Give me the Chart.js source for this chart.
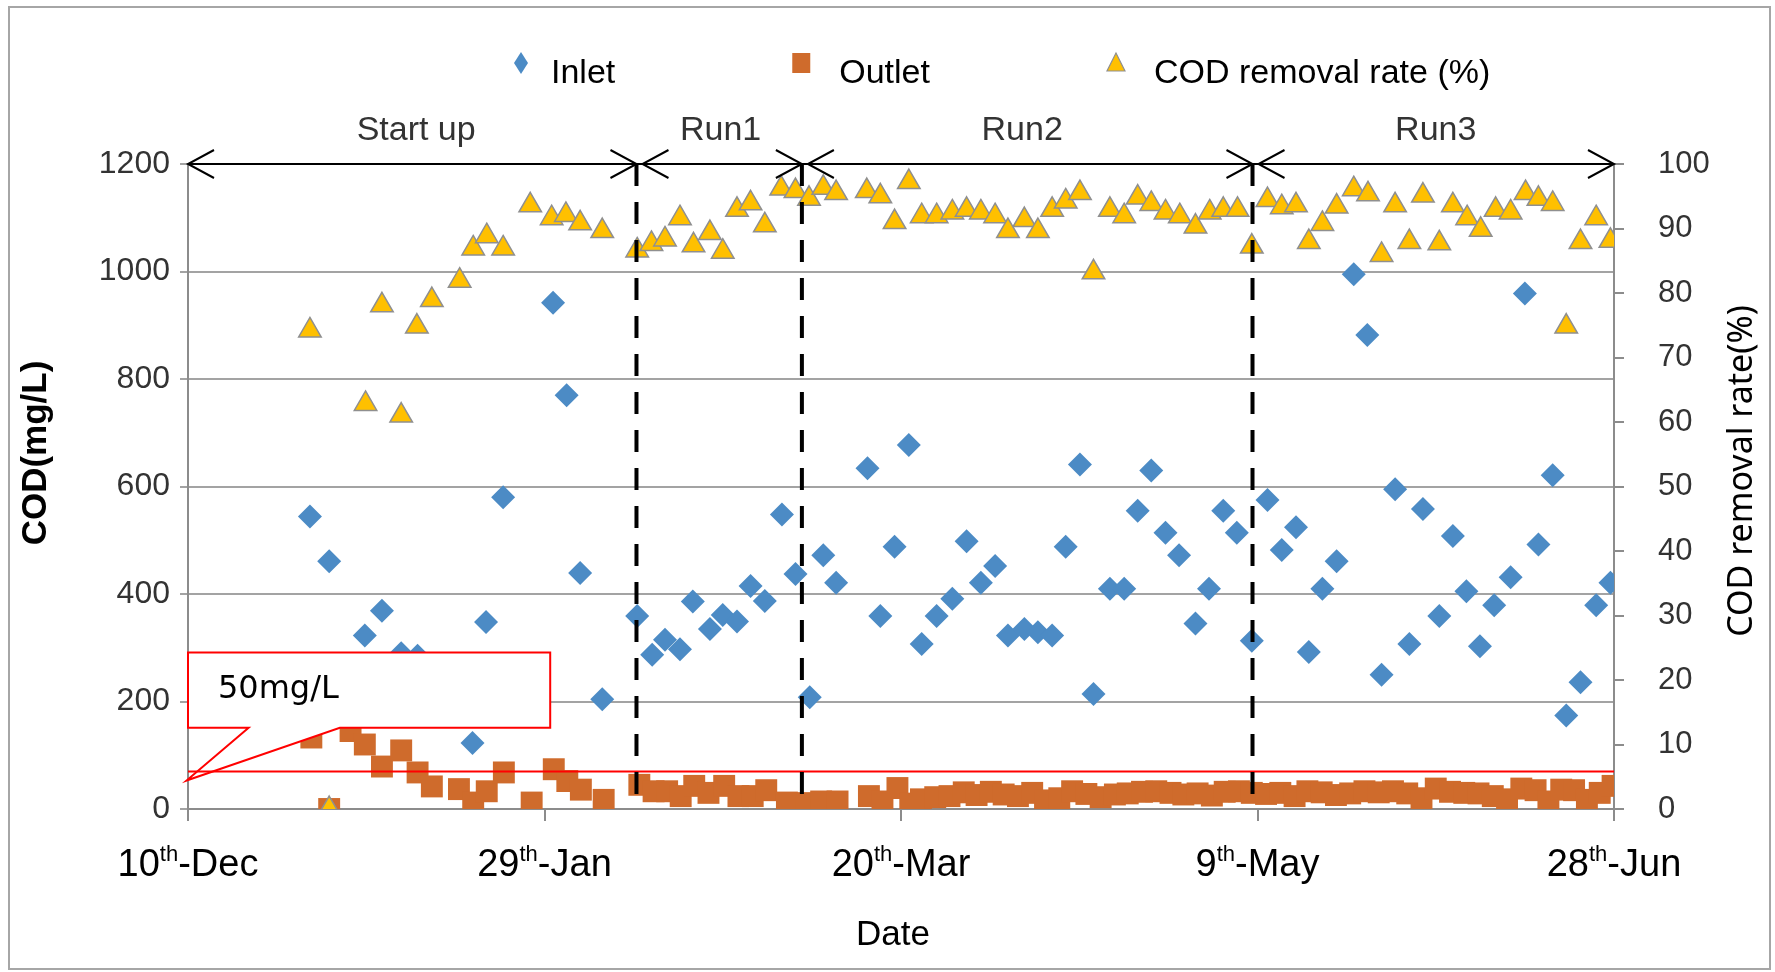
<!DOCTYPE html>
<html><head><meta charset="utf-8">
<script src="https://cdn.jsdelivr.net/npm/chart.js@4.4.0/dist/chart.umd.min.js"></script>
<style>html,body{margin:0;padding:0;background:#fff;}#wrap{width:1775px;height:972px;}</style>
</head><body><div id="wrap"><canvas id="c" width="1775" height="972"></canvas></div>
<script>
// ---- data (days after 10 Dec) ----
const inletDays = [17.1,19.8,24.8,27.2,29.9,32.2,39.9,41.8,44.2,51.2,53.1,55.0,58.1,63.0,65.1,66.9,69.0,70.8,73.2,75.0,77.0,78.9,80.9,83.3,85.2,87.2,89.1,90.9,95.3,97.1,99.1,101.1,102.9,105.0,107.2,109.2,111.2,113.2,115.0,117.3,119.2,121.2,123.1,125.1,127.0,129.3,131.3,133.2,135.1,137.1,139.0,141.3,143.2,145.2,147.1,149.2,151.4,153.4,155.4,157.2,159.1,161.1,163.5,165.4,167.4,169.3,171.3,173.2,175.5,177.4,179.3,181.2,183.2,185.5,187.5,189.4,191.4,193.3,195.3,197.5,199.5];
const inletCOD = [544,461,323,369,290,285,123,348,580,942,770,439,204,359,287,315,297,386,335,361,349,415,387,548,437,208,472,421,634,359,488,677,307,359,391,498,421,452,323,335,329,323,488,641,214,410,410,555,630,514,472,345,410,555,514,313,575,482,524,292,410,461,995,882,250,595,307,558,359,508,405,303,379,431,959,492,621,174,236,379,421];
const outletDays = [17.3,19.8,22.8,24.8,27.2,29.9,32.2,34.2,38.0,40.0,41.9,44.3,48.2,51.3,53.2,55.1,58.3,63.3,65.3,67.2,69.1,71.0,73.0,75.2,77.2,79.2,81.1,84.0,86.8,88.8,91.1,95.5,97.4,99.5,101.3,102.8,104.8,106.8,108.8,110.6,112.6,114.4,116.4,118.4,120.2,122.2,124.0,126.0,128.0,130.0,131.8,133.8,135.8,137.8,139.6,141.6,143.6,145.4,147.4,149.2,151.2,153.2,155.2,157.0,159.0,161.0,163.0,165.0,167.0,169.0,171.0,173.0,175.0,177.0,179.0,181.0,183.0,185.0,187.0,189.0,190.8,192.6,194.4,196.2,198.0,199.8];
const outletCOD = [133,0,145,120,79,109,68,42,37,12,33,68,12,74,52,36,17,45,33,33,24,43,30,43,24,24,35,12,11,14,14,24,14,39,10,18,22,24,31,26,32,27,24,30,16,20,33,28,22,27,29,32,33,30,27,29,25,32,33,30,28,30,24,33,31,26,29,33,31,33,29,20,38,32,30,29,24,18,38,35,14,36,35,17,30,43];
const removalDays = [17.1,19.8,24.9,27.2,29.9,32.1,34.2,38.1,40.0,41.9,44.2,48.0,51.0,53.0,55.0,58.1,63.0,65.0,66.9,69.0,70.9,73.2,75.0,77.0,78.9,80.9,83.2,85.2,87.1,89.1,90.9,95.2,97.1,99.1,101.1,102.9,105.0,107.2,109.2,111.2,113.2,115.0,117.3,119.2,121.2,123.1,125.1,127.0,129.3,131.3,133.2,135.1,137.1,139.1,141.3,143.3,145.2,147.2,149.2,151.4,153.4,155.4,157.2,159.1,161.1,163.5,165.5,167.4,169.3,171.3,173.2,175.5,177.4,179.4,181.3,183.4,185.5,187.6,189.4,191.4,193.3,195.3,197.5,199.5];
const removalRate = [74.2,0,62.8,78.1,61.0,74.8,78.9,81.9,86.9,88.8,86.9,93.6,91.6,92.1,90.8,89.6,86.6,87.6,88.3,91.6,87.4,89.3,86.4,92.9,93.9,90.5,96.2,95.8,94.6,96.3,95.5,95.8,95.0,91.0,97.2,91.9,91.9,92.5,92.9,92.5,91.9,89.6,91.3,89.6,92.9,94.2,95.5,83.2,92.9,91.9,94.8,93.8,92.5,91.9,90.3,92.5,92.9,92.9,87.2,94.4,93.3,93.6,87.9,90.7,93.4,96.1,95.3,85.9,93.6,87.9,95.1,87.7,93.6,91.6,89.8,92.9,92.5,95.5,94.6,93.8,74.8,87.9,91.6,88.1];
const xTickValues = [0,50,100,150,200];
const xTickLabels = [['10','th','-Dec'],['29','th','-Jan'],['20','th','-Mar'],['9','th','-May'],['28','th','-Jun']];
const phaseBounds = [62.9,86.1,149.3];
const phaseNames = ['Start up','Run1','Run2','Run3'];
const phaseLabelDays = [32,74.7,117,175];
const limitCOD = 70;
const calloutText = '50mg/L';
const seriesNames = ['Inlet','Outlet','COD removal rate (%)'];

const zip = (xs, ys) => xs.map((x, i) => ({x: x, y: ys[i]}));
const BLUE = '#4C8BC5', ORANGE = '#CF6B2C', YELLOW = '#FFC000';
const SANS = '"Liberation Sans", Arial, sans-serif';

const decor = {
  id: 'decor',
  beforeDraw(chart) {
    const ctx = chart.ctx;
    ctx.save();
    ctx.fillStyle = '#fff';
    ctx.fillRect(0, 0, chart.width, chart.height);
    ctx.restore();
  },
  afterDatasetsDraw(chart) {
    const ctx = chart.ctx, x = chart.scales.x, y = chart.scales.y;
    ctx.save();
    // callout
    const L = x.getPixelForValue(0), R = x.getPixelForValue(50.8);
    const T = y.getPixelForValue(291), B = y.getPixelForValue(151);
    ctx.beginPath();
    ctx.moveTo(L, T); ctx.lineTo(R, T); ctx.lineTo(R, B);
    ctx.lineTo(x.getPixelForValue(21.3), B);
    ctx.lineTo(x.getPixelForValue(-0.2), y.getPixelForValue(53));
    ctx.lineTo(x.getPixelForValue(8.5), B);
    ctx.lineTo(L, B); ctx.closePath();
    ctx.fillStyle = '#fff'; ctx.fill();
    ctx.strokeStyle = '#ff0000'; ctx.lineWidth = 2; ctx.stroke();
    ctx.fillStyle = '#000';
    ctx.font = '32px "DejaVu Sans", sans-serif';
    ctx.textBaseline = 'middle'; ctx.textAlign = 'left';
    ctx.fillText(calloutText, x.getPixelForValue(4.2), y.getPixelForValue(222));
    // limit line
    ctx.beginPath();
    ctx.moveTo(x.getPixelForValue(0), y.getPixelForValue(limitCOD));
    ctx.lineTo(x.getPixelForValue(200), y.getPixelForValue(limitCOD));
    ctx.strokeStyle = '#ff0000'; ctx.lineWidth = 2; ctx.stroke();
    // phase dashed lines
    ctx.strokeStyle = '#000'; ctx.lineWidth = 4; ctx.setLineDash([22, 16]);
    phaseBounds.forEach(d => {
      const px = x.getPixelForValue(d);
      ctx.beginPath(); ctx.moveTo(px, y.getPixelForValue(1200)); ctx.lineTo(px, y.getPixelForValue(0)); ctx.stroke();
    });
    ctx.setLineDash([]);
    // arrow line
    const ay = y.getPixelForValue(1200);
    ctx.lineWidth = 2;
    ctx.beginPath(); ctx.moveTo(x.getPixelForValue(0), ay); ctx.lineTo(x.getPixelForValue(200), ay); ctx.stroke();
    const head = (px, dir) => {
      ctx.beginPath();
      ctx.moveTo(px - dir * 26, ay - 14); ctx.lineTo(px, ay); ctx.lineTo(px - dir * 26, ay + 14);
      ctx.stroke();
    };
    head(x.getPixelForValue(0), -1);
    head(x.getPixelForValue(200), 1);
    phaseBounds.forEach(d => { const px = x.getPixelForValue(d); head(px, 1); head(px + 6, -1); });
    // phase labels
    ctx.fillStyle = '#333'; ctx.font = '34px ' + SANS;
    ctx.textAlign = 'center'; ctx.textBaseline = 'alphabetic';
    phaseNames.forEach((n, i) => ctx.fillText(n, x.getPixelForValue(phaseLabelDays[i]), 140));
    ctx.restore();
  },
  afterDraw(chart) {
    const ctx = chart.ctx, x = chart.scales.x;
    ctx.save();
    // frame
    ctx.strokeStyle = '#a6a6a6'; ctx.lineWidth = 2;
    ctx.strokeRect(9, 7, 1761, 962);
    // x tick labels with superscripts
    ctx.fillStyle = '#000'; ctx.textBaseline = 'alphabetic'; ctx.textAlign = 'left';
    const big = '38px ' + SANS, small = '22px ' + SANS;
    xTickLabels.forEach((parts, i) => {
      ctx.font = big; const w1 = ctx.measureText(parts[0]).width, w3 = ctx.measureText(parts[2]).width;
      ctx.font = small; const w2 = ctx.measureText(parts[1]).width;
      let sx = x.getPixelForValue(xTickValues[i]) - (w1 + w2 + w3) / 2;
      ctx.font = big; ctx.fillText(parts[0], sx, 876);
      ctx.font = small; ctx.fillText(parts[1], sx + w1, 861);
      ctx.font = big; ctx.fillText(parts[2], sx + w1 + w2, 876);
    });
    // x title
    ctx.font = '35px ' + SANS; ctx.textAlign = 'center'; ctx.textBaseline = 'middle';
    ctx.fillText('Date', 893, 935);
    // left title
    ctx.save(); ctx.translate(36, 453); ctx.rotate(-Math.PI / 2);
    ctx.font = 'bold 35px ' + SANS; ctx.fillText('COD(mg/L)', 0, 0); ctx.restore();
    // right title
    ctx.save(); ctx.translate(1742, 471); ctx.rotate(-Math.PI / 2);
    ctx.font = '34px "Noto Sans", ' + SANS; ctx.fillText('COD removal rate(%)', 0, 0); ctx.restore();
    // legend
    let cx = 521; const my = 63;
    ctx.textAlign = 'left'; ctx.textBaseline = 'alphabetic'; ctx.font = '34px ' + SANS;
    seriesNames.forEach((name, i) => {
      ctx.beginPath();
      if (i === 0) {
        ctx.moveTo(cx, my - 11); ctx.lineTo(cx + 7, my); ctx.lineTo(cx, my + 11); ctx.lineTo(cx - 7, my); ctx.closePath();
        ctx.fillStyle = BLUE; ctx.fill();
      } else if (i === 1) {
        ctx.rect(cx - 9, my - 10, 18, 20); ctx.fillStyle = ORANGE; ctx.fill();
      } else {
        ctx.moveTo(cx, my - 10); ctx.lineTo(cx + 9, my + 8); ctx.lineTo(cx - 9, my + 8); ctx.closePath();
        ctx.fillStyle = YELLOW; ctx.fill(); ctx.strokeStyle = '#8f8f8f'; ctx.lineWidth = 1.2; ctx.stroke();
      }
      const tx = cx + (i === 0 ? 30 : 38);
      ctx.fillStyle = '#000'; ctx.fillText(name, tx, 83);
      cx = tx + ctx.measureText(name).width + 186;
    });
    ctx.restore();
  }
};

new Chart(document.getElementById('c'), {
  type: 'scatter',
  data: {
    datasets: [
      {label: seriesNames[2], data: zip(removalDays, removalRate), yAxisID: 'y2', pointStyle: 'triangle', pointRadius: 13, pointHoverRadius: 13, backgroundColor: YELLOW, borderColor: '#8f8f8f', borderWidth: 1.5},
      {label: seriesNames[0], data: zip(inletDays, inletCOD), yAxisID: 'y', pointStyle: 'rectRot', pointRadius: 12, pointHoverRadius: 12, backgroundColor: BLUE, borderWidth: 0},
      {label: seriesNames[1], data: zip(outletDays, outletCOD), yAxisID: 'y', pointStyle: 'rect', pointRadius: 15.5, pointHoverRadius: 15.5, backgroundColor: ORANGE, borderWidth: 0}
    ]
  },
  options: {
    responsive: false, animation: false, devicePixelRatio: 1,
    layout: {padding: {top: 164, left: 0, right: 0, bottom: 0}},
    plugins: {legend: {display: false}, tooltip: {enabled: false}},
    scales: {
      x: {type: 'linear', min: 0, max: 200, position: 'bottom',
        ticks: {stepSize: 50, display: false},
        grid: {drawOnChartArea: false, drawTicks: true, tickLength: 12, color: '#8c8c8c', lineWidth: 2},
        border: {display: true, color: '#8c8c8c', width: 2},
        afterFit: s => { s.height = 163; }},
      y: {position: 'left', min: 0, max: 1200,
        ticks: {stepSize: 200, padding: 10, color: '#333', font: {size: 32, family: SANS}, callback: v => String(v)},
        grid: {color: '#a3a3a3', lineWidth: 2, tickLength: 8},
        border: {display: true, color: '#8c8c8c', width: 2},
        afterFit: s => { s.width = 188; }},
      y2: {position: 'right', min: 0, max: 100,
        ticks: {stepSize: 10, padding: 34, color: '#333', font: {size: 31, family: SANS}, callback: v => String(v)},
        grid: {drawOnChartArea: false, tickLength: 10, color: '#8c8c8c', lineWidth: 2},
        border: {display: true, color: '#8c8c8c', width: 2},
        afterFit: s => { s.width = 161; }}
    }
  },
  plugins: [decor]
});
</script></body></html>
